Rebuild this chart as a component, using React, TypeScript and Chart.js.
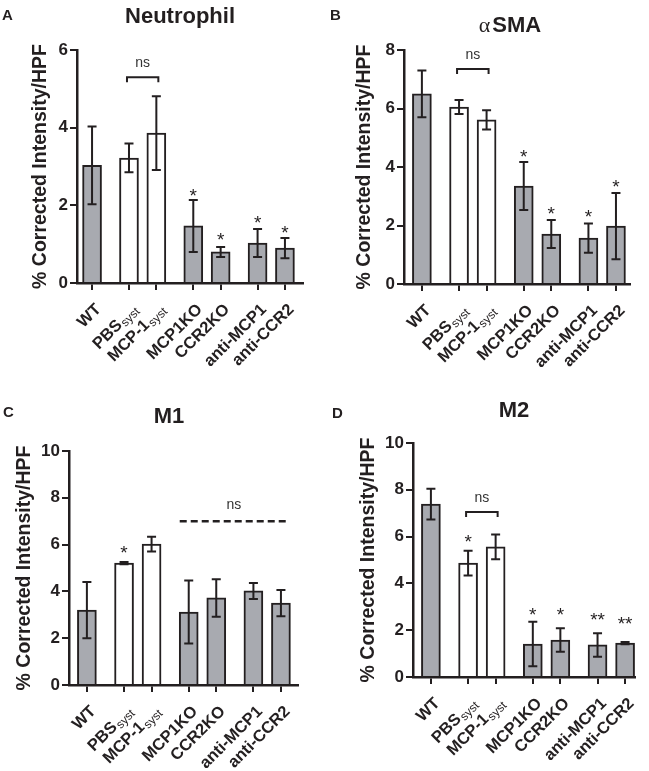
import React, { useEffect, useRef } from "react";
import { Chart, registerables } from "chart.js";
Chart.register(...registerables);

// ---------- data ----------
const categories = ["WT", "PBS", "MCP-1", "MCP1KO", "CCR2KO", "anti-MCP1", "anti-CCR2"];
const subscripts = ["", "syst", "syst", "", "", "", ""];
const xPositions = [0, 1.35, 2.35, 3.7, 4.7, 6.05, 7.05];
const barKinds = ["grey", "white", "white", "grey", "grey", "grey", "grey"];

const neutrophilMeans = [3.03, 3.22, 3.86, 1.47, 0.8, 1.03, 0.9];
const neutrophilErrors = [1.0, 0.37, 0.95, 0.67, 0.13, 0.36, 0.26];
const neutrophilStars = ["", "", "", "*", "*", "*", "*"];
const neutrophilStarLevels = [null, null, null, 2.37, 1.24, 1.68, 1.42];

const smaMeans = [6.5, 6.05, 5.61, 3.35, 1.71, 1.57, 1.98];
const smaErrors = [0.8, 0.24, 0.33, 0.82, 0.48, 0.5, 1.13];
const smaStars = ["", "", "", "*", "*", "*", "*"];
const smaStarLevels = [null, null, null, 4.51, 2.56, 2.46, 3.49];

const m1Means = [3.2, 5.21, 6.02, 3.12, 3.72, 4.02, 3.5];
const m1Errors = [1.2, 0.05, 0.32, 1.35, 0.8, 0.34, 0.56];
const m1Stars = ["", "*", "", "", "", "", ""];
const m1StarLevels = [null, 5.85, null, null, null, null, null];

const m2Means = [7.39, 4.87, 5.56, 1.41, 1.58, 1.37, 1.45];
const m2Errors = [0.66, 0.53, 0.53, 0.95, 0.5, 0.5, 0.05];
const m2Stars = ["", "*", "", "*", "*", "**", "**"];
const m2StarLevels = [null, 5.98, null, 2.86, 2.86, 2.65, 2.48];

// ---------- styles ----------
const INK = "#231f20";
const GREY = "#a8aab0";
const SANS = "'Liberation Sans', Arial, Helvetica, sans-serif";
const SERIF = "'Liberation Serif', 'Times New Roman', serif";

type NsSpec = { type: "bracket" | "dashed"; from: number; to: number; level: number };
type PanelSpec = {
  key: string;
  left: number; top: number; width: number; height: number;
  axisX: number; rightPad: number; plotTop: number; plotBottom: number;
  xMin: number; xMax: number; yMax: number; yStep: number;
  means: number[]; errors: number[]; stars: string[]; starLevels: (number | null)[];
  ns: NsSpec;
  title: string; titleGreek?: string; titleX: number; titleBaseline: number;
  letter: string; letterX: number; letterBaseline: number;
  yTitlePad: number;
};

const panels: PanelSpec[] = [
  {
    key: "A", left: 0, top: 0, width: 325, height: 385,
    axisX: 77, rightPad: 22, plotTop: 50, plotBottom: 283,
    xMin: -0.55, xMax: 7.71, yMax: 6, yStep: 2,
    means: neutrophilMeans, errors: neutrophilErrors, stars: neutrophilStars, starLevels: neutrophilStarLevels,
    ns: { type: "bracket", from: 1, to: 2, level: 5.3 },
    title: "Neutrophil", titleX: 180, titleBaseline: 23,
    letter: "A", letterX: 2, letterBaseline: 20, yTitlePad: 31,
  },
  {
    key: "B", left: 325, top: 0, width: 324, height: 385,
    axisX: 79, rightPad: 19, plotTop: 50, plotBottom: 284,
    xMin: -0.65, xMax: 7.56, yMax: 8, yStep: 2,
    means: smaMeans, errors: smaErrors, stars: smaStars, starLevels: smaStarLevels,
    ns: { type: "bracket", from: 1, to: 2, level: 7.35 },
    title: "SMA", titleGreek: "α", titleX: 185, titleBaseline: 32,
    letter: "B", letterX: 5, letterBaseline: 20, yTitlePad: 30,
  },
  {
    key: "C", left: 0, top: 385, width: 325, height: 386,
    axisX: 69, rightPad: 27, plotTop: 66, plotBottom: 300,
    xMin: -0.65, xMax: 7.67, yMax: 10, yStep: 2,
    means: m1Means, errors: m1Errors, stars: m1Stars, starLevels: m1StarLevels,
    ns: { type: "dashed", from: 3, to: 6, level: 7.0 },
    title: "M1", titleX: 169, titleBaseline: 38,
    letter: "C", letterX: 3, letterBaseline: 32, yTitlePad: 15,
  },
  {
    key: "D", left: 325, top: 385, width: 324, height: 386,
    axisX: 88, rightPad: 14, plotTop: 58, plotBottom: 292,
    xMin: -0.65, xMax: 7.41, yMax: 10, yStep: 2,
    means: m2Means, errors: m2Errors, stars: m2Stars, starLevels: m2StarLevels,
    ns: { type: "bracket", from: 1, to: 2, level: 7.05 },
    title: "M2", titleX: 189, titleBaseline: 32,
    letter: "D", letterX: 7, letterBaseline: 33, yTitlePad: 34,
  },
];

function makeOverlay(p: PanelSpec) {
  return {
    id: "overlay" + p.key,
    afterDatasetsDraw(chart: any) {
      const { ctx } = chart;
      const x = chart.scales.x;
      const y = chart.scales.y;
      ctx.save();
      // error bars
      ctx.strokeStyle = INK;
      ctx.lineWidth = 2;
      p.means.forEach((m, i) => {
        const cx = x.getPixelForValue(xPositions[i]);
        const yt = y.getPixelForValue(m + p.errors[i]);
        const yb = y.getPixelForValue(Math.max(0, m - p.errors[i]));
        ctx.beginPath();
        ctx.moveTo(cx, yt);
        ctx.lineTo(cx, yb);
        ctx.moveTo(cx - 4.5, yt);
        ctx.lineTo(cx + 4.5, yt);
        ctx.moveTo(cx - 4.5, yb);
        ctx.lineTo(cx + 4.5, yb);
        ctx.stroke();
      });
      // stars
      ctx.fillStyle = INK;
      ctx.font = `19px ${SANS}`;
      ctx.textAlign = "center";
      ctx.textBaseline = "alphabetic";
      p.stars.forEach((s, i) => {
        const lvl = p.starLevels[i];
        if (!s || lvl == null) return;
        ctx.fillText(s, x.getPixelForValue(xPositions[i]), y.getPixelForValue(lvl) + 11);
      });
      // ns annotation
      const ns = p.ns;
      const yl = y.getPixelForValue(ns.level);
      if (ns.type === "bracket") {
        const x1 = x.getPixelForValue(xPositions[ns.from]) - 2;
        const x2 = x.getPixelForValue(xPositions[ns.to]) + 2;
        ctx.lineWidth = 2;
        ctx.beginPath();
        ctx.moveTo(x1, yl + 5);
        ctx.lineTo(x1, yl);
        ctx.lineTo(x2, yl);
        ctx.lineTo(x2, yl + 5);
        ctx.stroke();
        ctx.font = `14px ${SANS}`;
        ctx.fillStyle = "#333";
        ctx.fillText("ns", (x1 + x2) / 2, yl - 10);
      } else {
        const x1 = x.getPixelForValue(xPositions[ns.from]) - 9;
        const x2 = x.getPixelForValue(xPositions[ns.to]) + 7;
        ctx.lineWidth = 2.5;
        ctx.setLineDash([7, 4]);
        ctx.beginPath();
        ctx.moveTo(x1, yl);
        ctx.lineTo(x2, yl);
        ctx.stroke();
        ctx.setLineDash([]);
        ctx.font = `14px ${SANS}`;
        ctx.fillStyle = "#333";
        ctx.fillText("ns", (x1 + x2) / 2, yl - 12);
      }
      ctx.restore();
    },
    afterDraw(chart: any) {
      const { ctx } = chart;
      const x = chart.scales.x;
      const bottom = chart.chartArea.bottom;
      ctx.save();
      ctx.fillStyle = INK;
      // panel letter
      ctx.font = `bold 15px ${SANS}`;
      ctx.textAlign = "left";
      ctx.textBaseline = "alphabetic";
      ctx.fillText(p.letter, p.letterX, p.letterBaseline);
      // title
      const tFont = `bold 22px ${SANS}`;
      if (p.titleGreek) {
        const gFont = `22px ${SERIF}`;
        ctx.font = gFont;
        const gw = ctx.measureText(p.titleGreek).width + 2;
        ctx.font = tFont;
        const tw = ctx.measureText(p.title).width;
        const start = p.titleX - (gw + tw) / 2;
        ctx.font = gFont;
        ctx.fillText(p.titleGreek, start, p.titleBaseline);
        ctx.font = tFont;
        ctx.fillText(p.title, start + gw, p.titleBaseline);
      } else {
        ctx.font = tFont;
        ctx.textAlign = "center";
        ctx.fillText(p.title, p.titleX, p.titleBaseline);
      }
      // x labels
      const mainFont = `bold 16.5px ${SANS}`;
      const subFont = `12px ${SANS}`;
      categories.forEach((cat, i) => {
        const px = x.getPixelForValue(xPositions[i]);
        ctx.save();
        ctx.translate(px + 6.5, bottom + 24);
        ctx.rotate(-Math.PI / 4);
        ctx.textAlign = "left";
        ctx.textBaseline = "middle";
        ctx.font = mainFont;
        const w1 = ctx.measureText(cat).width;
        let w2 = 0;
        const sub = subscripts[i];
        if (sub) {
          ctx.font = subFont;
          w2 = ctx.measureText(sub).width + 1;
        }
        const total = w1 + w2;
        ctx.font = mainFont;
        ctx.fillText(cat, -total, 0);
        if (sub) {
          ctx.font = subFont;
          ctx.fillText(sub, -w2 + 1, 4);
        }
        ctx.restore();
      });
      ctx.restore();
    },
  };
}

function Panel({ p }: { p: PanelSpec }) {
  const ref = useRef<HTMLCanvasElement | null>(null);
  useEffect(() => {
    if (!ref.current) return;
    const chart = new Chart(ref.current, {
      type: "bar",
      data: {
        datasets: [
          {
            data: xPositions.map((xv, i) => ({ x: xv, y: p.means[i] })) as any,
            backgroundColor: barKinds.map((k) => (k === "grey" ? GREY : "#ffffff")),
            borderColor: INK,
            borderWidth: 2,
            barThickness: 19,
          },
        ],
      },
      options: {
        responsive: false,
        animation: false,
        events: [],
        layout: { padding: { top: p.plotTop, right: p.rightPad, left: 0, bottom: 0 } },
        plugins: { legend: { display: false }, tooltip: { enabled: false }, title: { display: false } },
        scales: {
          x: {
            type: "linear",
            min: p.xMin,
            max: p.xMax,
            offset: false,
            afterBuildTicks: (s: any) => {
              s.ticks = xPositions.map((v) => ({ value: v }));
            },
            afterFit: (s: any) => {
              s.height = p.height - p.plotBottom;
            },
            ticks: { display: false },
            grid: { offset: false, drawOnChartArea: false, drawTicks: true, tickLength: 7, color: INK, lineWidth: 2 },
            border: { display: true, color: INK, width: 2.5 },
          },
          y: {
            type: "linear",
            min: 0,
            max: p.yMax,
            afterFit: (s: any) => {
              s.width = p.axisX;
            },
            ticks: {
              stepSize: p.yStep,
              color: INK,
              padding: 2,
              font: { family: SANS, size: 17, weight: "bold" },
            },
            grid: { drawOnChartArea: false, drawTicks: true, tickLength: 7, color: INK, lineWidth: 2 },
            border: { display: true, color: INK, width: 2.5 },
            title: {
              display: true,
              text: "% Corrected Intensity/HPF",
              color: INK,
              font: { family: SANS, size: 19.5, weight: "bold", lineHeight: 1 },
              padding: { top: p.yTitlePad, bottom: 0 },
            },
          },
        },
      } as any,
      plugins: [makeOverlay(p)],
    });
    return () => chart.destroy();
  }, [p]);
  return (
    <canvas
      ref={ref}
      width={p.width}
      height={p.height}
      style={{ position: "absolute", left: p.left, top: p.top, width: p.width, height: p.height }}
    />
  );
}

export default function App() {
  return (
    <div style={{ position: "absolute", left: 0, top: 0, width: 649, height: 771, background: "#ffffff", overflow: "hidden" }}>
      {panels.map((p) => (
        <Panel key={p.key} p={p} />
      ))}
    </div>
  );
}
